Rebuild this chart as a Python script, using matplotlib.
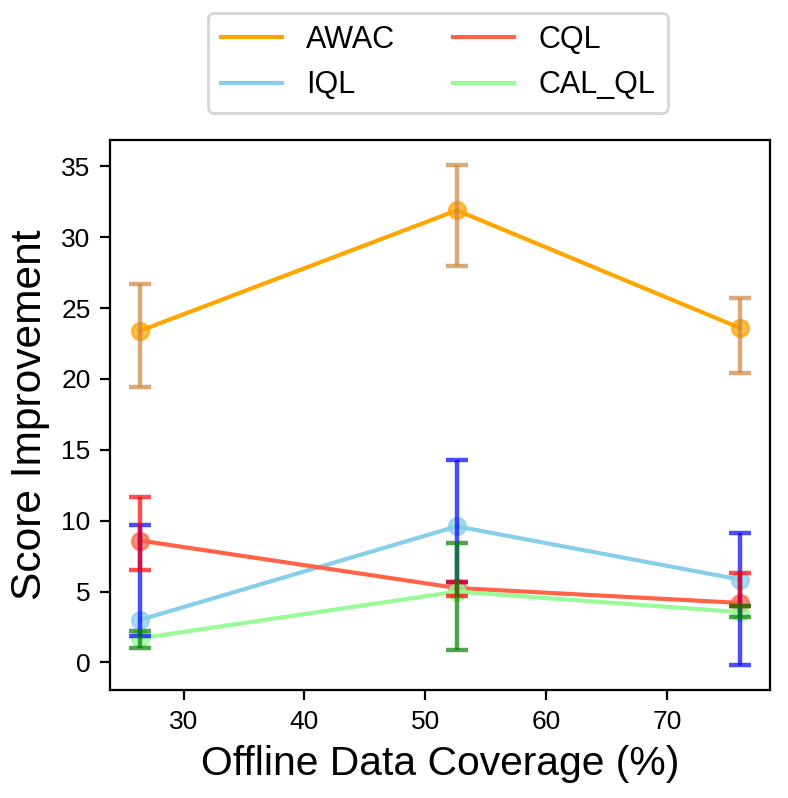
import matplotlib
matplotlib.use("Agg")
import matplotlib.pyplot as plt
from matplotlib.lines import Line2D

plt.rcParams['font.family'] = ['Liberation Sans', 'DejaVu Sans']

coverage = [26.4, 52.6, 76.0]

methods = ["AWAC", "IQL", "CQL", "CAL_QL"]
awac_mean = [23.4, 31.9, 23.6]
awac_low = [19.4, 28.0, 20.4]
awac_high = [26.7, 35.1, 25.7]

iql_mean = [3.0, 9.6, 5.85]
iql_low = [1.85, 5.7, -0.2]
iql_high = [9.7, 14.25, 9.15]

cql_mean = [8.6, 5.25, 4.2]
cql_low = [6.5, 4.7, 3.95]
cql_high = [11.7, 5.7, 6.3]

calql_mean = [1.7, 5.0, 3.55]
calql_low = [1.0, 0.9, 3.2]
calql_high = [2.2, 8.45, 4.0]

line_colors = ["orange", "skyblue", "tomato", "palegreen"]
err_colors = ["peru", "blue", "red", "green"]

fig = plt.figure(figsize=(3.94, 3.99), dpi=200)
ax = fig.add_axes([0.1396, 0.135, 0.8374, 0.6896])

series = [
    (awac_mean, awac_low, awac_high),
    (iql_mean, iql_low, iql_high),
    (cql_mean, cql_low, cql_high),
    (calql_mean, calql_low, calql_high),
]

for (m, lo, hi), lc, ec, name in zip(series, line_colors, err_colors, methods):
    yerr = [[mm - l for mm, l in zip(m, lo)], [h - mm for mm, h in zip(m, hi)]]
    ax.plot(coverage, m, color=lc, lw=1.5, zorder=2)
    ax.plot(coverage, m, 'o', color=lc, ms=6, alpha=0.7, zorder=2)
    ax.errorbar(coverage, m, yerr=yerr, fmt='none', ecolor=ec, elinewidth=1.6,
                capsize=3.8, capthick=1.6, alpha=0.7, zorder=3)

ax.set_xlabel("Offline Data Coverage (%)", fontsize=14.7)
ax.set_ylabel("Score Improvement", fontsize=15.3)
ax.tick_params(labelsize=9.5, width=0.8, length=3.5)
for s in ax.spines.values():
    s.set_linewidth(0.8)

handles = [Line2D([0], [0], color=c, lw=1.5) for c in line_colors]
fig.legend(handles, methods, loc='upper center', bbox_to_anchor=(0.556, 1.003),
           ncol=2, fontsize=11, frameon=True, columnspacing=1.9)

fig.savefig("out.png", dpi=200)
